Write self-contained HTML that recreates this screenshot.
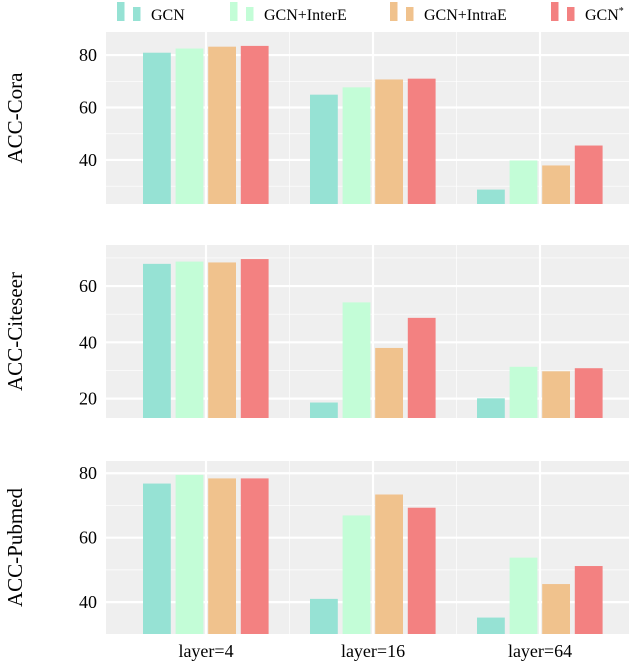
<!DOCTYPE html>
<html><head><meta charset="utf-8"><style>
html,body{margin:0;padding:0;background:#fff;}
</style></head><body>
<svg id="chart" width="640" height="664" xmlns="http://www.w3.org/2000/svg" font-family="'Liberation Serif', 'DejaVu Serif', serif" style="font-family:'Liberation Serif','DejaVu Serif',serif"></svg>
<script>
const categories = ["layer=4","layer=16","layer=64"];
const seriesNames = ["GCN","GCN+InterE","GCN+IntraE","GCN*"];
const coraValues = [[80.9,82.5,83.2,83.5],[64.9,67.7,70.7,71.0],[28.7,39.8,37.9,45.5]];
const citeseerValues = [[67.9,68.7,68.4,69.6],[18.6,54.2,38.0,48.7],[20.1,31.3,29.7,30.8]];
const pubmedValues = [[76.8,79.5,78.4,78.4],[41.0,66.9,73.4,69.3],[35.2,53.8,45.6,51.2]];
const coraTicks = [40,60,80];
const citeseerTicks = [20,40,60];
const pubmedTicks = [40,60,80];
const colors = ["#96e2d4","#c3fdd7","#f0c28d","#f38181"];
const NS="http://www.w3.org/2000/svg";
const svg=document.getElementById('chart');
function mk(tag,attrs,parent){const e=document.createElementNS(NS,tag);for(const k in attrs)e.setAttribute(k,attrs[k]);(parent||svg).appendChild(e);return e;}
const panels=[
 {name:"cora",title:"ACC-Cora",vals:coraValues,ticks:coraTicks,top:32,bot:204,vmin:23.2,vmax:88.8},
 {name:"citeseer",title:"ACC-Citeseer",vals:citeseerValues,ticks:citeseerTicks,top:245,bot:418,vmin:13.1,vmax:74.6},
 {name:"pubmed",title:"ACC-Pubmed",vals:pubmedValues,ticks:pubmedTicks,top:461,bot:634,vmin:30.1,vmax:83.8}
];
const X0=106,X1=629,groupStep=167,bw=27.8,bstep=32.6;
function gx(i){return 206+i*groupStep;}
panels.forEach(p=>{
  const g=mk('g',{});
  
  
  const y=v=>p.bot-(v-p.vmin)/(p.vmax-p.vmin)*(p.bot-p.top);
  const bg=mk('rect',{x:X0,y:p.top,width:X1-X0,height:p.bot-p.top,fill:'#efefef'},g);
  
  
  for(let v=Math.ceil(p.vmin/10)*10;v<=p.vmax;v+=10){
    const l=mk('line',{x1:X0,x2:X1,y1:y(v),y2:y(v),stroke:'#fff','stroke-width':(v%20===0)?2.2:0.7},g);
    
    
  }
  categories.forEach((c,i)=>{
    const l=mk('line',{x1:gx(i),x2:gx(i),y1:p.top,y2:p.bot,stroke:'#fff','stroke-width':2.2},g);
    
    
    if(i<2){const m=mk('line',{x1:gx(i)+groupStep/2,x2:gx(i)+groupStep/2,y1:p.top,y2:p.bot,stroke:'#fff','stroke-width':0.7},g);
      
      }
  });
  p.ticks.forEach(t=>{
    const tx=mk('text',{x:97,y:y(t)+6,'text-anchor':'end','font-size':18},g);
    tx.textContent=t;
    
    
  });
  p.vals.forEach((grp,i)=>{
    grp.forEach((v,j)=>{
      const bx=gx(i)-63+j*bstep;
      const r=mk('rect',{x:bx,y:y(v),width:bw,height:p.bot-y(v),fill:colors[j]},g);
      
      
    });
  });
  const cy=(p.top+p.bot)/2;
  const t=mk('text',{x:0,y:0,'text-anchor':'middle','font-size':21,transform:`translate(22,${cy}) rotate(-90)`},g);
  t.textContent=p.title;
  
  
});
categories.forEach((c,i)=>{
  const t=mk('text',{x:gx(i),y:657,'text-anchor':'middle','font-size':18});
  t.textContent=c;
  
  
});
const legX=[117,230,390,551];
seriesNames.forEach((s,j)=>{
  const g=mk('g',{});
  
  
  mk('rect',{x:legX[j],y:2,width:7.5,height:19,fill:colors[j]},g);
  mk('rect',{x:legX[j]+16,y:7,width:7.5,height:14,fill:colors[j]},g);
  const t=mk('text',{x:legX[j]+34,y:20,'font-size':16},g);
  if(s==="GCN*"){t.textContent="GCN";const sp=mk('tspan',{dy:-6,'font-size':10},t);sp.textContent="*";}
  else t.textContent=s;
});
</script>
</body></html>
